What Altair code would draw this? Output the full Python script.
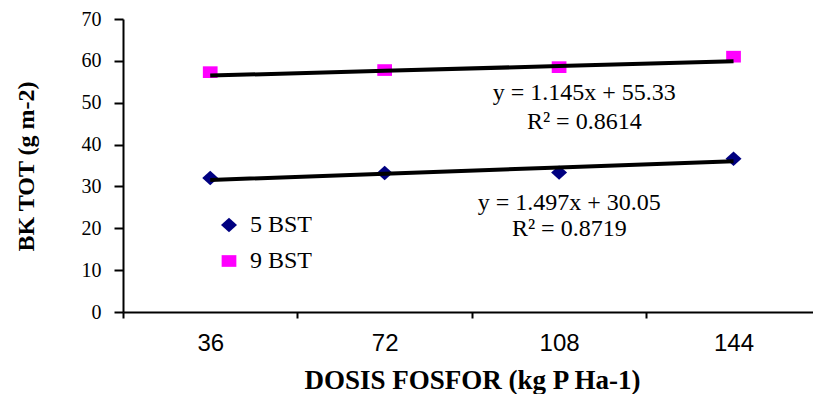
import altair as alt
import pandas as pd

# Phosphorus doses (kg P/ha) on the x axis
doses = [36, 72, 108, 144]
series_names = ["5 BST", "9 BST"]

# Total dry weight (g m-2) per dose
bk_5bst = [32.0, 33.2, 33.3, 36.6]
bk_9bst = [57.3, 57.8, 58.5, 61.0]

# Linear trend fitted on the dose index (1..4)
slopes = [1.497, 1.145]
intercepts = [30.05, 55.33]
r_squared = [0.8719, 0.8614]

marker_colors = ["#000080", "#FF00FF"]

SERIF = "Liberation Serif"
SANS = "Liberation Sans"

# Slightly flattened diamond and square symbols
diamond_path = "M-1,0L0,-0.9L1,0L0,0.9Z"
square_path = "M-0.92,-0.73H0.92V0.73H-0.92Z"

points_df = pd.DataFrame({
    "dose": doses * 2,
    "series": [series_names[0]] * len(doses) + [series_names[1]] * len(doses),
    "bk": bk_5bst + bk_9bst,
})

trend_rows = []
for name, a, b in zip(series_names, slopes, intercepts):
    for i, d in enumerate(doses):
        trend_rows.append({"dose": d, "series": name, "bk": a * (i + 1) + b})
trend_df = pd.DataFrame(trend_rows)

# Equation / R² annotations, anchored in data units
eq_anchor_x = [110.1, 113.2]
eq_anchor_y = [24.4, 50.7]
r2_anchor_y = [18.2, 43.75]
ann_rows = []
for k in range(2):
    ann_rows.append({"dose": eq_anchor_x[k], "bk": eq_anchor_y[k],
                     "text": f"y = {slopes[k]}x + {intercepts[k]}"})
    ann_rows.append({"dose": eq_anchor_x[k], "bk": r2_anchor_y[k],
                     "text": f"R\u00b2 = {r_squared[k]}"})
ann_df = pd.DataFrame(ann_rows)

x_scale = alt.Scale(domain=[18, 160.4], nice=False, zero=False)
y_scale = alt.Scale(domain=[0, 70], nice=False, zero=True)

x_axis = alt.Axis(
    title="DOSIS FOSFOR (kg P Ha-1)",
    values=[18, 36, 54, 72, 90, 108, 126, 144],
    labelExpr="datum.value % 36 == 0 ? datum.label : ''",
    format="d",
    grid=False,
    domainColor="black",
    domainWidth=2,
    tickColor="black",
    tickWidth=2,
    tickSize=6,
    tickOpacity={"condition": {"test": "datum.value % 36 == 0", "value": 0}, "value": 1},
    labelFont=SANS,
    labelFontSize=24,
    labelColor="black",
    labelPadding=13,
    labelOverlap=False,
    labelFlush=False,
    labelBound=False,
    titleFont=SERIF,
    titleFontSize=27,
    titleFontWeight="bold",
    titleColor="black",
    titleX=349,
    titleY=76,
    titleAlign="center",
    titleBaseline="alphabetic",
)

y_axis = alt.Axis(
    title="BK TOT (g m-2)",
    values=list(range(0, 80, 10)),
    format="d",
    grid=False,
    domainColor="black",
    domainWidth=2,
    tickColor="black",
    tickWidth=2,
    tickSize=9,
    labelFont=SERIF,
    labelFontSize=20,
    labelColor="black",
    labelPadding=13,
    titleFont=SERIF,
    titleFontSize=24,
    titleFontWeight="bold",
    titleColor="black",
    titleAngle=270,
    titleX=-90,
    titleY=147,
    titleAlign="center",
    titleBaseline="alphabetic",
)

x_enc = alt.X("dose:Q", scale=x_scale, axis=x_axis)
y_enc = alt.Y("bk:Q", scale=y_scale, axis=y_axis)

legend = alt.Legend(
    title=None,
    orient="none",
    legendX=94,
    legendY=194,
    padding=0,
    symbolSize=256,
    symbolStrokeWidth=0,
    labelFont=SERIF,
    labelFontSize=24,
    labelColor="black",
    labelOffset=9,
    rowPadding=12,
)

points = alt.Chart(points_df).mark_point(filled=True, opacity=1, size=256).encode(
    x=x_enc,
    y=y_enc,
    color=alt.Color("series:N", scale=alt.Scale(domain=series_names, range=marker_colors), legend=legend),
    shape=alt.Shape("series:N", scale=alt.Scale(domain=series_names, range=[diamond_path, square_path]), legend=legend),
)

trend = alt.Chart(trend_df).mark_line(color="black", strokeWidth=4, strokeCap="butt").encode(
    x=x_enc,
    y=y_enc,
    detail="series:N",
)

labels = alt.Chart(ann_df).mark_text(
    font=SERIF, fontSize=24, color="black", align="center", baseline="alphabetic"
).encode(
    x=x_enc,
    y=y_enc,
    text="text:N",
)

chart = alt.layer(points, trend, labels).properties(
    width=690,
    height=293,
    padding={"left": 123, "top": 19, "right": 0, "bottom": 82},
    autosize=alt.AutoSizeParams(type="none"),
    background="white",
).configure_view(stroke=None)

chart.save("out.html", embed_options={"renderer": "svg", "actions": False})
